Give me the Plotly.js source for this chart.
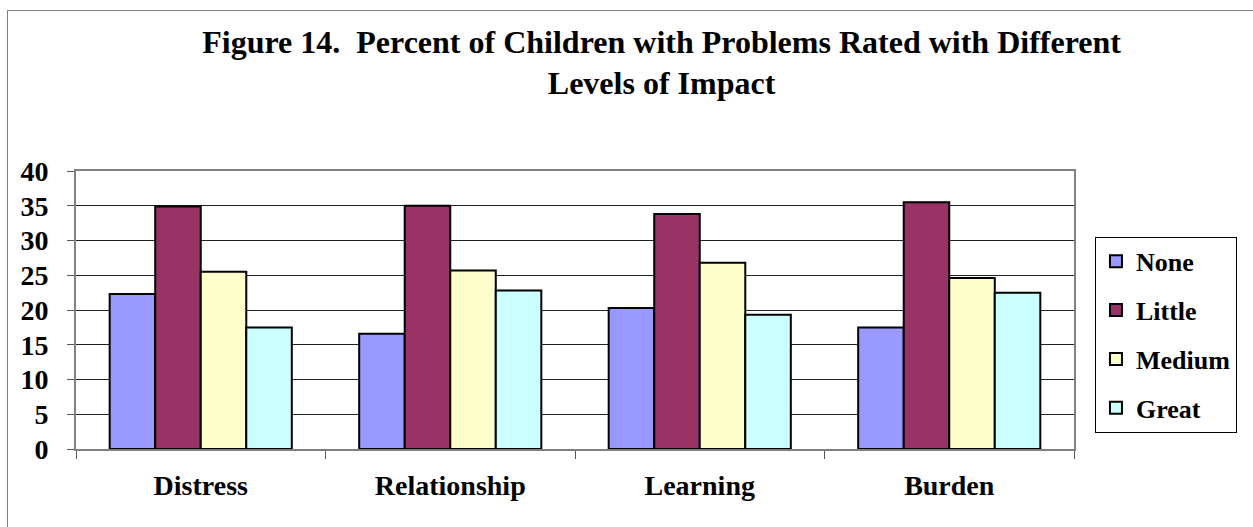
<!DOCTYPE html>
<html>
<head>
<meta charset="utf-8">
<script src="https://cdn.plot.ly/plotly-3.0.1.min.js"></script>
<style>
  html, body { margin: 0; padding: 0; background: #fff; }
  #wrap { position: relative; width: 1253px; height: 527px; overflow: hidden; }
  #chart { width: 1253px; height: 527px; }
  #frame { position: absolute; left: 7px; top: 10px; width: 1300px; height: 600px;
           border: 1px solid #808080; pointer-events: none; box-sizing: border-box; }
</style>
</head>
<body>
<div id="wrap">
  <div id="chart"></div>
  <div id="frame"></div>
</div>
<script>
const categories = ["Distress", "Relationship", "Learning", "Burden"];
const seriesNames = ["None", "Little", "Medium", "Great"];
const noneVals   = [22.3, 16.6, 20.3, 17.5];
const littleVals = [34.9, 35.0, 33.8, 35.5];
const mediumVals = [25.5, 25.7, 26.8, 24.6];
const greatVals  = [17.5, 22.8, 19.3, 22.5];
const yTicks = [0, 5, 10, 15, 20, 25, 30, 35, 40];

const colors = ["#9999FF", "#993366", "#FFFFCC", "#CCFFFF"];
const allVals = [noneVals, littleVals, mediumVals, greatVals];
const FONT = "Liberation Serif";

const traces = seriesNames.map((name, i) => ({
  type: "bar",
  name: name,
  x: categories,
  y: allVals[i],
  legendgroup: "g" + i,
  marker: { color: colors[i], line: { color: "#000", width: 2 } },
  hoverinfo: "x+y+name"
}));

const layout = {
  width: 1253, height: 527,
  margin: { l: 76, r: 179, t: 171, b: 78, pad: 0 },
  paper_bgcolor: "#fff", plot_bgcolor: "#fff",
  font: { family: FONT, size: 24, color: "#000", weight: "bold" },
  barmode: "group", bargap: 0.27, bargroupgap: 0,
  showlegend: true,
  title: {
    text: "Figure 14.\u00a0 Percent of Children with Problems Rated with Different<br>Levels of Impact",
    font: { family: FONT, size: 32, color: "#000", weight: "bold" },
    xref: "container", x: 0.528, xanchor: "center",
    yref: "container", y: 0.90, yanchor: "top"
  },
  xaxis: {
    type: "category",
    showline: true, linecolor: "#808080", linewidth: 2, mirror: true,
    ticks: "outside", tickson: "boundaries", ticklen: 8, tickcolor: "#555", tickwidth: 1,
    showgrid: false, zeroline: false,
    tickfont: { family: FONT, size: 28, color: "#000", weight: "bold" },
    ticklabelstandoff: 10
  },
  yaxis: {
    range: [0, 40], tickvals: yTicks,
    showline: true, linecolor: "#808080", linewidth: 2, mirror: true,
    ticks: "outside", ticklen: 7, tickcolor: "#555", tickwidth: 1,
    showgrid: true, gridcolor: "#222", gridwidth: 1, zeroline: false,
    tickfont: { family: FONT, size: 28, color: "#000", weight: "bold" },
    ticklabelstandoff: 13
  },
  legend: {
    x: 1.021, xanchor: "left", y: 0.763, yanchor: "top",
    bgcolor: "#fff", bordercolor: "#000", borderwidth: 1,
    font: { family: FONT, size: 26, color: "#000", weight: "bold" },
    tracegroupgap: 12, traceorder: "grouped",
    itemwidth: 30
  }
};

Plotly.newPlot("chart", traces, layout, { displayModeBar: false, staticPlot: true });
</script>
</body>
</html>
